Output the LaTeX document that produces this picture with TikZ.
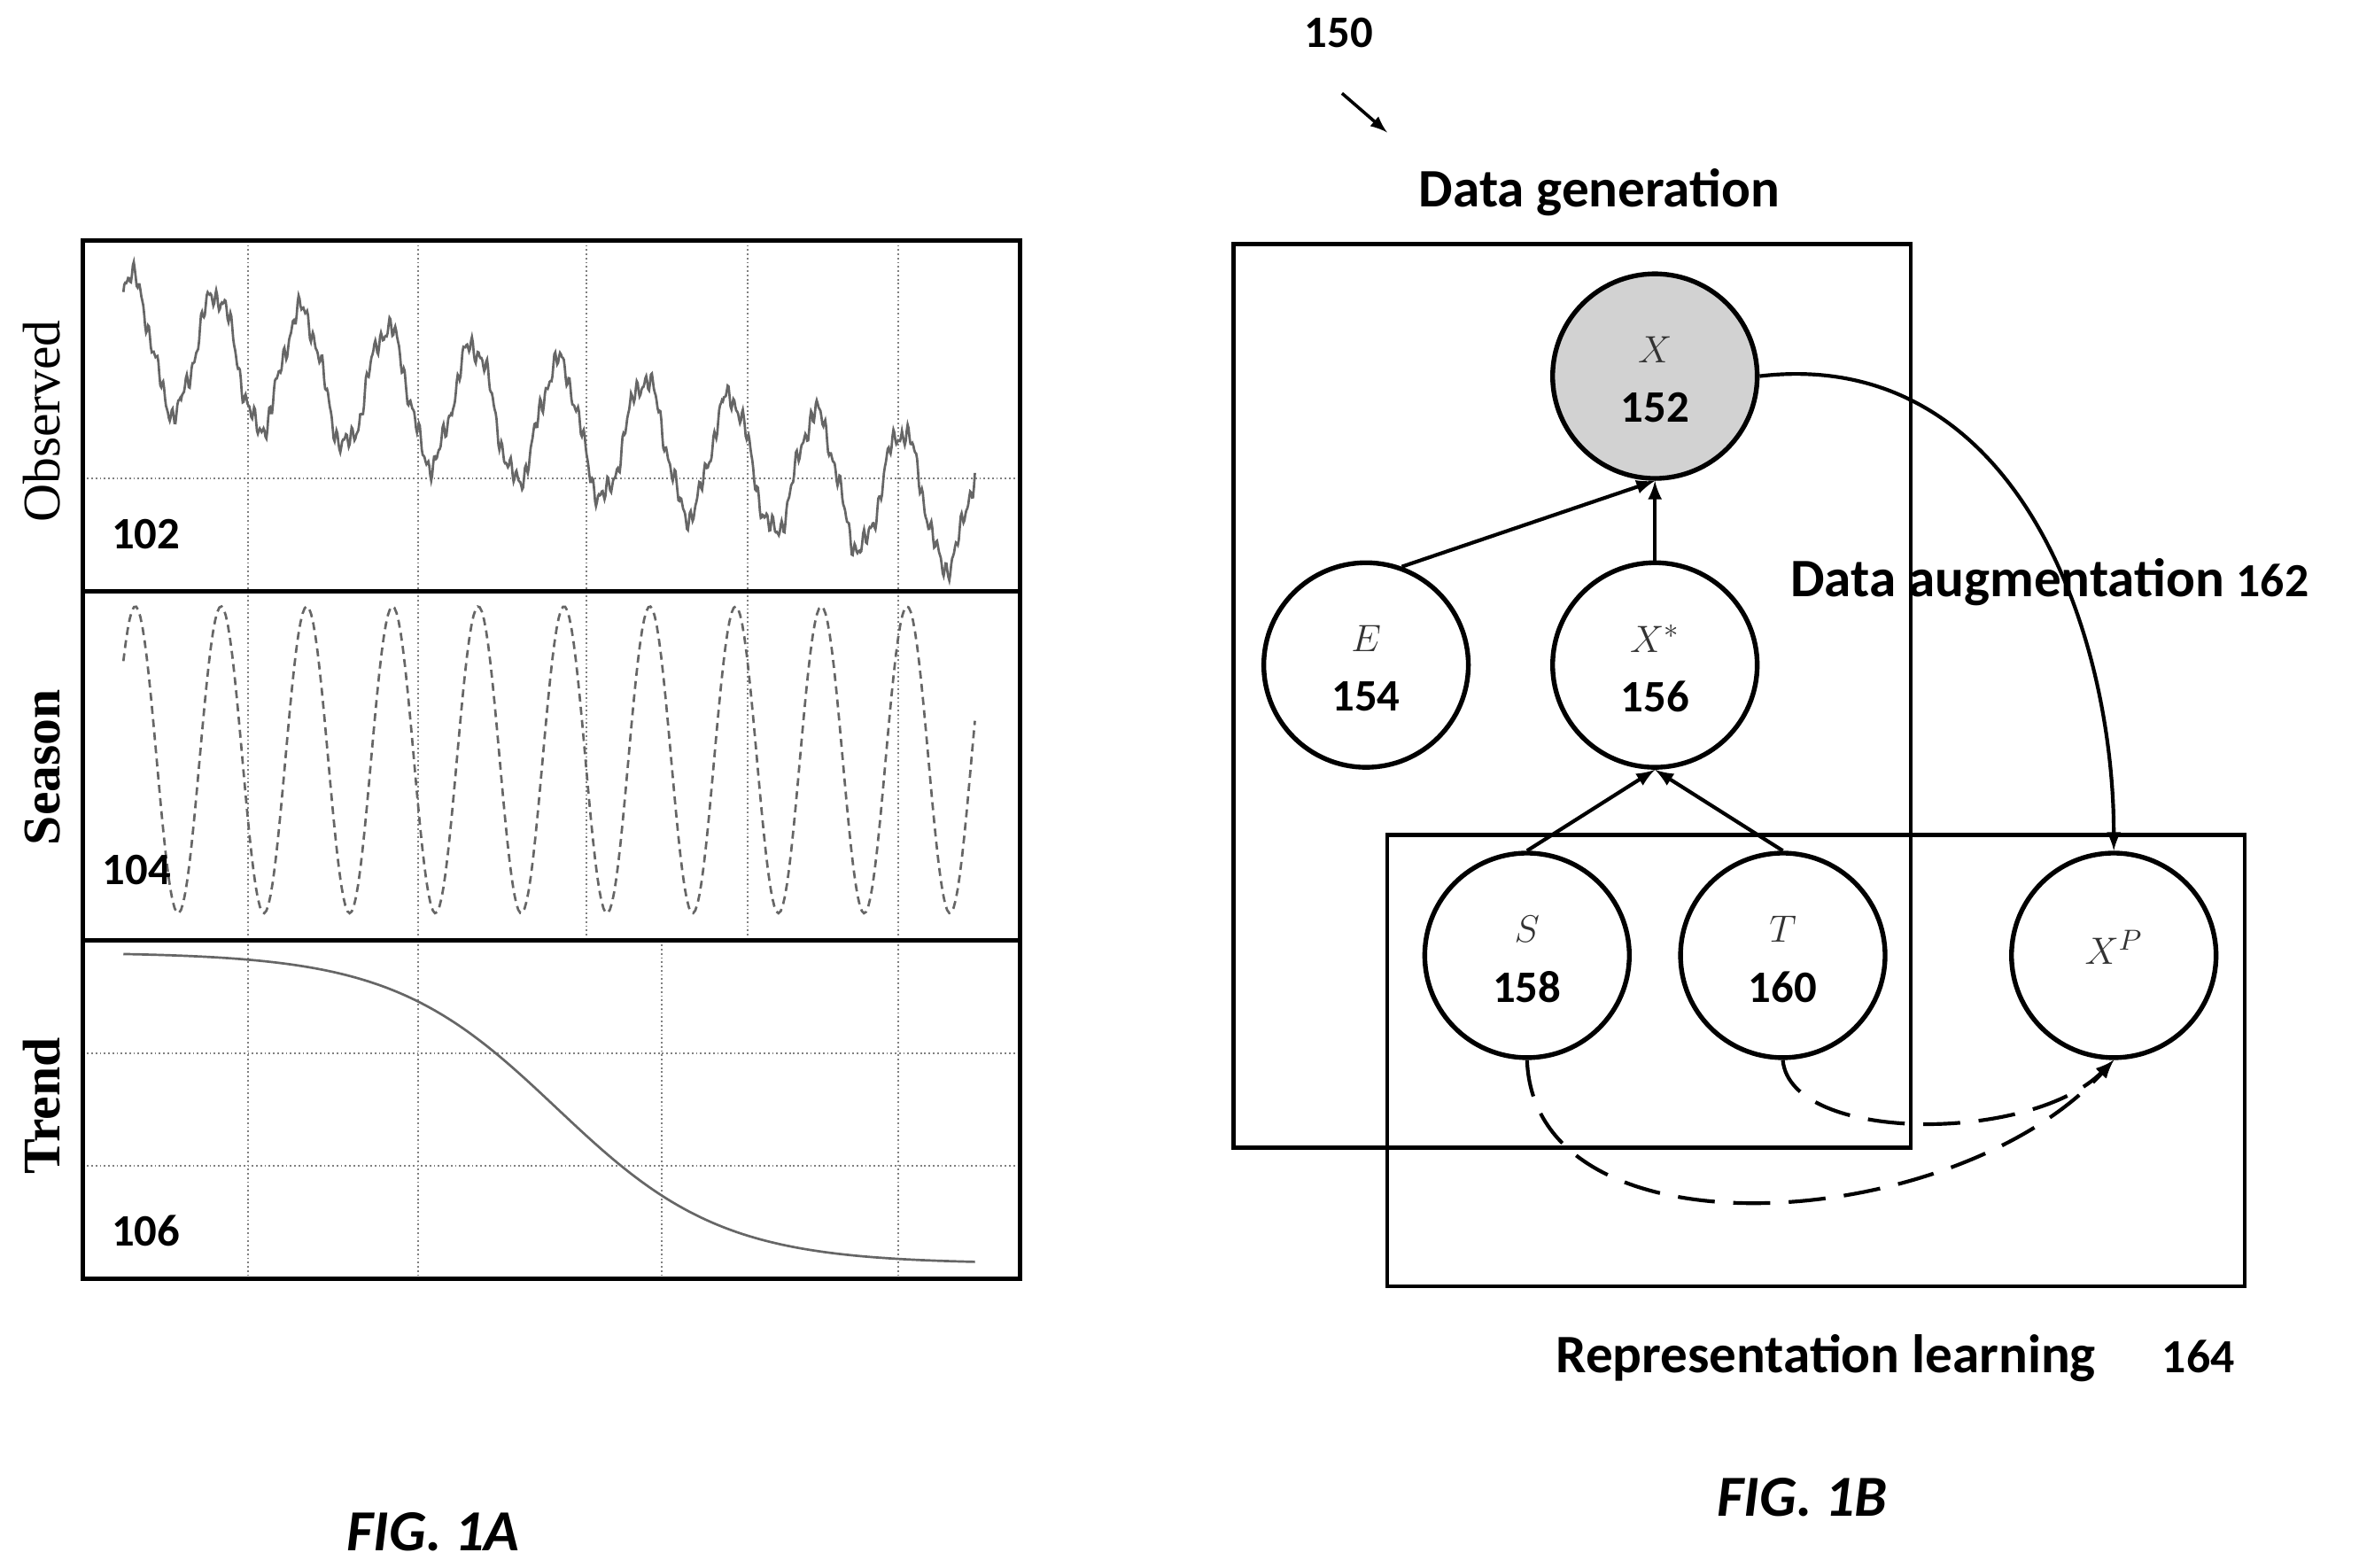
\documentclass[tikz,border=0pt]{standalone}
\usepackage{fontspec}
\setmainfont{Carlito}
\newfontfamily\serifm{Liberation Serif}
\begin{document}
\begin{tikzpicture}[x=0.02cm,y=-0.02cm,
  lab/.style={font=\fontsize{17}{19}\selectfont\bfseries},
  big/.style={font=\fontsize{20.5}{23}\selectfont\bfseries},
  fig/.style={font=\fontsize{22}{26}\selectfont\bfseries\itshape},
  nd/.style={circle,draw,line width=1.8pt,minimum size=2.72cm,inner sep=0pt},
  grid/.style={densely dotted,gray,line width=0.6pt},
  curve/.style={gray!80!black,line width=0.9pt},
  arr/.style={-latex,line width=1.4pt}]
\useasboundingbox (0,0) rectangle (1568,1042);
% ---- FIG 1A
\foreach \xx in {165,278,390,497,597}{
  \draw[grid] (\xx,160) -- (\xx,393);
  \draw[grid] (\xx,393) -- (\xx,625);}
\foreach \xx in {165,278,440,597}{\draw[grid] (\xx,625) -- (\xx,850);}
\draw[grid] (55,318) -- (678,318);
\draw[grid] (55,700) -- (678,700);
\draw[grid] (55,775) -- (678,775);
\draw[line width=1.6pt] (55,160) rectangle (678,850);
\draw[line width=1.6pt] (55,393) -- (678,393) (55,625) -- (678,625);
\draw[curve] plot[domain=82:648,samples=900] (\x,{225+0.2*(\x-82)-42*sin((\x-82)*6.3158+60)+5*sin(\x*23)+4*sin(mod(\x,60)*71+20)+3*sin(mod(\x,45)*113)});
\draw[curve,densely dashed] plot[domain=82:648,samples=400] (\x,{505-102*sin((\x-82)*6.3158+40)});
\draw[curve] plot[domain=82:648,samples=200] (\x,{633+207/(1+exp(-(\x-370)/55))});
\node[rotate=90,font=\fontsize{20}{22}\selectfont\serifm] (obs) at (28,280) {Observed};
\node[rotate=90,font=\fontsize{20}{22}\selectfont\serifm\bfseries] (sea) at (28,510) {Season};
\node[rotate=90,font=\fontsize{20}{22}\selectfont\serifm\bfseries] (tre) at (28,735) {Trend};
\node[lab,anchor=west] (n102) at (68,355) {102};
\node[lab,anchor=west] (n104) at (62,578) {104};
\node[lab,anchor=west] (n106) at (68,818) {106};
\node[fig] (f1a) at (288,1018) {FIG. 1A};
% ---- FIG 1B
\node[lab] (n150) at (890,22) {150};
\coordinate (a1) at (892,62); \coordinate (a2) at (922,88);
\draw[arr,line width=1.2pt] (a1) -- (a2);
\node[big] (dg) at (1063,128) {Data generation};
\draw[line width=1.6pt] (820,162) rectangle (1270,763);
\draw[line width=1.6pt] (922,555) rectangle (1492,855);
\node[nd,fill=gray!35] (X) at (1100,250) {};
\node[nd] (E) at (908,442) {};
\node[nd] (Xs) at (1100,442) {};
\node[nd] (S) at (1015,635) {};
\node[nd] (T) at (1185,635) {};
\node[nd] (XP) at (1405,635) {};
\foreach \n/\l/\num in {X/X/152,E/E/154,Xs/{X^*}/156,S/S/158,T/T/160}{
  \node[font=\fontsize{15}{17}\selectfont\serifm\itshape,gray!40!black] at ([yshift=10pt]\n.center) {$\l$};
  \node[lab] at ([yshift=-12pt]\n.center) {\num};}
\node[font=\fontsize{15}{17}\selectfont\serifm\itshape,gray!40!black] at ([yshift=3pt]XP.center) {$X^P$};
\draw[arr] (E.70) -- (X.south);
\draw[arr] (Xs.north) -- (X.south);
\draw[arr] (S.north) -- (Xs.south);
\draw[arr] (T.north) -- (Xs.south);
\draw[arr] (X.east) .. controls (1340,230) and (1405,420) .. (XP.north);
\draw[arr,dash pattern=on 14pt off 7pt] (T.south) .. controls (1190,760) and (1350,760) .. (XP.south);
\draw[arr,dash pattern=on 14pt off 7pt] (S.south) .. controls (1020,840) and (1300,820) .. (XP.south);
\node[big,anchor=west] (da) at (1184,387) {Data augmentation \fontsize{18}{20}\selectfont 162};
\node[big,anchor=west] (rl) at (1028,903) {Representation learning \quad\fontsize{18}{20}\selectfont 164};
\node[fig] (f1b) at (1198,995) {FIG. 1B};
\end{tikzpicture}
\end{document}
